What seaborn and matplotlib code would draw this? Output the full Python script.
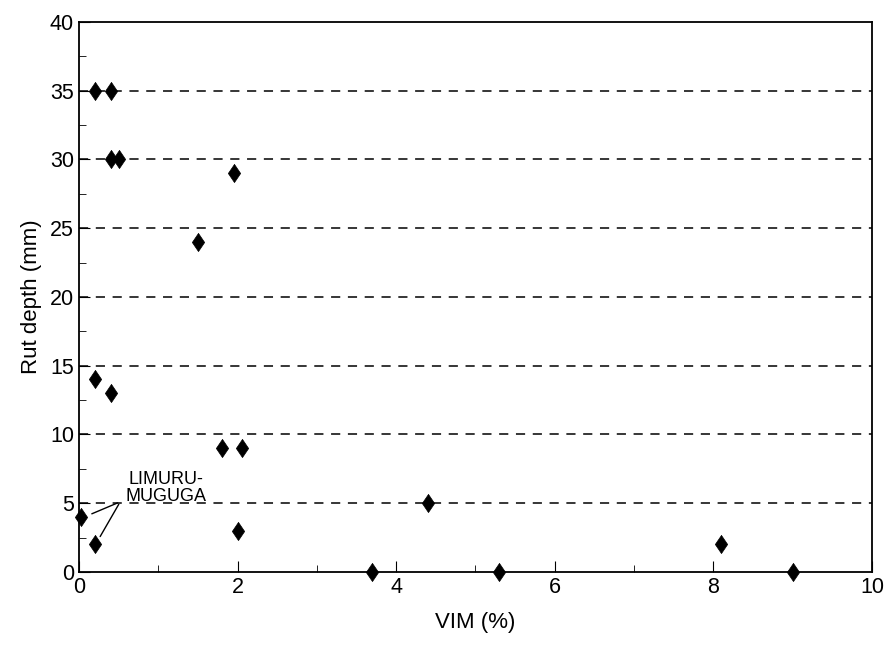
import matplotlib
matplotlib.use("Agg")
import matplotlib.pyplot as plt
import seaborn as sns
import pandas as pd
from matplotlib.ticker import MultipleLocator

vim = [0.2, 0.4, 0.4, 0.5, 1.95, 1.5, 0.2, 0.4, 1.8, 2.05, 2.0, 0.02, 0.2, 3.7, 4.4, 5.3, 8.1, 9.0]
rut = [35, 35, 30, 30, 29, 24, 14, 13, 9, 9, 3, 4, 2, 0, 5, 0, 2, 0]

df = pd.DataFrame({"VIM (%)": vim, "Rut depth (mm)": rut})

sns.set_style("ticks")
plt.rcParams['font.family'] = ['Liberation Sans', 'DejaVu Sans']
plt.rcParams['text.color'] = 'black'
plt.rcParams['axes.labelcolor'] = 'black'
plt.rcParams['xtick.color'] = 'black'
plt.rcParams['ytick.color'] = 'black'

fig = plt.figure(figsize=(8.87, 6.47), dpi=100)
ax = fig.add_axes([0.089, 0.116, 0.894, 0.85])

for y in range(5, 40, 5):
    ax.axhline(y, color="black", lw=1.1, ls=(0, (6, 5)), zorder=1)

# tall diamond marker like the original
diamond = [(0, 1), (0.68, 0), (0, -1), (-0.68, 0), (0, 1)]
sns.scatterplot(data=df, x="VIM (%)", y="Rut depth (mm)", marker=diamond, color="black",
                s=170, edgecolor="black", linewidth=0.5, ax=ax, zorder=3, clip_on=False)

ax.set_xlim(0, 10)
ax.set_ylim(0, 40)
ax.xaxis.set_major_locator(MultipleLocator(2))
ax.xaxis.set_minor_locator(MultipleLocator(1))
ax.yaxis.set_major_locator(MultipleLocator(5))
ax.yaxis.set_minor_locator(MultipleLocator(2.5))
ax.tick_params(which="both", direction="in", labelsize=15.5, color="black", labelcolor="black")
ax.tick_params(which="major", length=8)
ax.tick_params(which="minor", length=5)
for s in ax.spines.values():
    s.set_linewidth(1.3)
    s.set_color("black")
ax.set_xlabel("VIM (%)", fontsize=16, labelpad=10)
ax.set_ylabel("Rut depth (mm)", fontsize=16, labelpad=6)

ax.text(1.1, 4.9, "LIMURU-\nMUGUGA", fontsize=13, ha="center", va="bottom", linespacing=1.0)
ax.annotate("", xy=(0.13, 4.15), xytext=(0.52, 5.1),
            arrowprops=dict(arrowstyle="-", color="black", lw=1))
ax.annotate("", xy=(0.25, 2.4), xytext=(0.52, 5.1),
            arrowprops=dict(arrowstyle="-", color="black", lw=1))

fig.savefig("out.png", dpi=100)
